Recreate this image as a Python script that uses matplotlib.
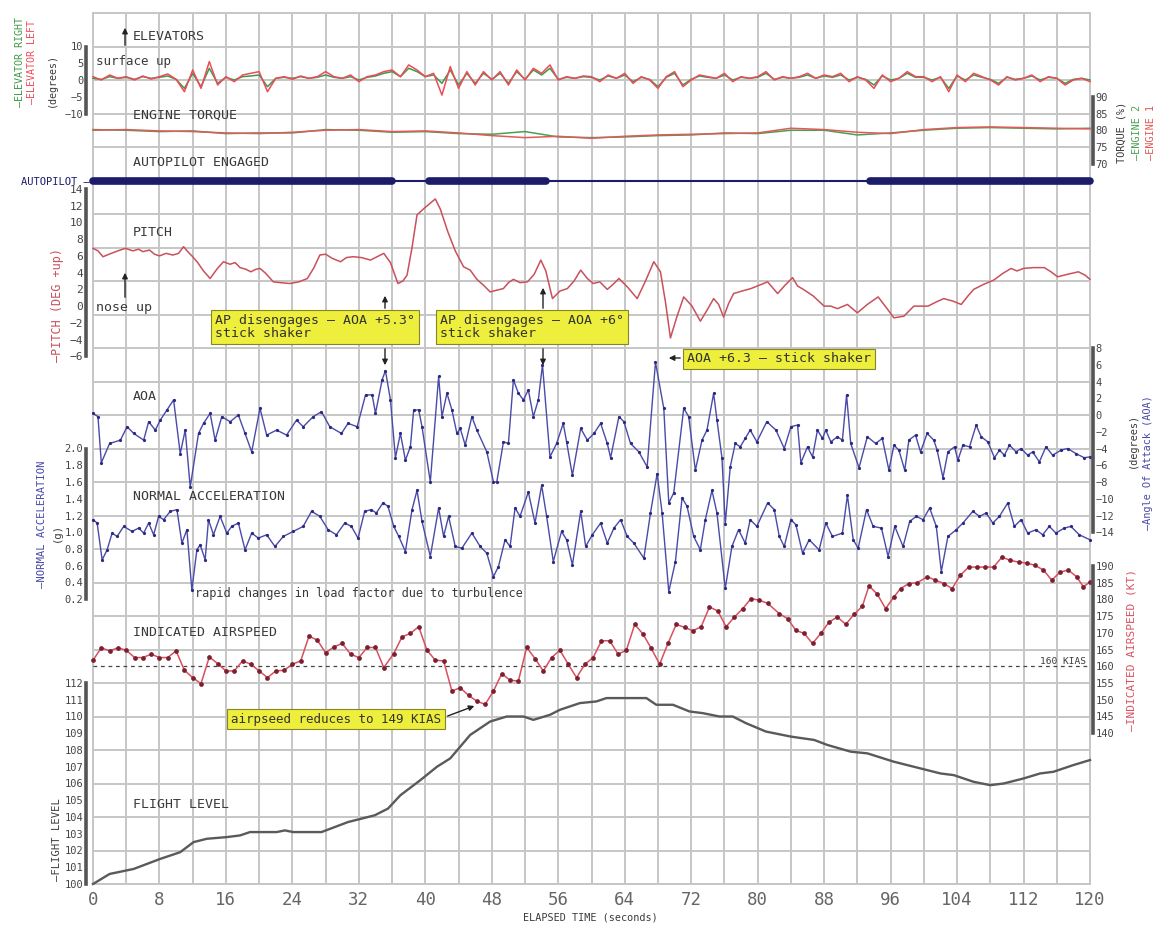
import numpy as np
import matplotlib.pyplot as plt

# ---------------- data ----------------
elev_time = list(range(0, 121))
elev_left = [1.0, 0.0, 1.5, 0.5, 1.0, 0.0, 1.2, 0.3, 1.0, 1.8,
             0.2, -3.5, 3.0, -2.5, 5.5, -1.5, 1.0, -0.5, 1.5, 2.0,
             2.5, -3.5, 0.5, 1.0, 0.2, 1.2, 0.5, 1.0, 2.5, 1.0,
             0.5, 1.5, -0.5, 1.0, 1.5, 2.5, 3.0, 1.0, 4.5, 3.0,
             1.0, 2.0, -4.5, 4.0, -2.5, 2.5, -1.5, 2.5, 0.0, 2.5,
             -1.5, 3.0, 0.0, 3.5, 2.0, 4.5, 0.0, 1.0, 0.5, 1.2,
             1.0, -0.5, 1.5, 0.5, 2.0, -1.0, 1.0, 0.0, -2.5, 1.0,
             2.5, -2.0, 0.0, 1.5, 1.0, 0.5, 2.0, -0.5, 1.0, 0.5,
             1.0, 2.5, 0.0, 1.0, 0.5, 1.0, 2.0, 0.5, 1.5, 1.0,
             2.0, -0.5, 1.0, 0.0, -2.5, 1.5, -0.5, 0.5, 2.5, 1.0,
             1.0, -0.5, 1.0, -3.5, 1.5, -0.5, 2.0, 1.0, 0.0, -1.5,
             1.0, 0.0, 0.5, 1.5, -0.5, 1.0, 0.5, -1.5, 0.0, 0.5,
             -0.5]
elev_right = [0.5, 0.2, 1.0, 0.5, 0.8, 0.2, 1.0, 0.5, 0.8, 1.2,
              0.2, -2.5, 2.0, -2.0, 3.5, -1.0, 0.8, 0.0, 1.0, 1.2,
              1.5, -2.0, 0.5, 0.8, 0.5, 1.0, 0.5, 0.8, 1.5, 0.8,
              0.5, 1.0, 0.0, 0.8, 1.2, 2.0, 2.5, 1.0, 3.5, 2.5,
              1.0, 1.5, -1.0, 3.0, -1.5, 2.0, -1.0, 2.0, 0.2, 2.0,
              -1.0, 2.5, 0.2, 3.0, 1.5, 3.5, 0.2, 0.8, 0.5, 1.0,
              0.8, 0.0, 1.2, 0.5, 1.5, -0.5, 0.8, 0.2, -2.0, 0.8,
              2.0, -1.5, 0.2, 1.2, 0.8, 0.5, 1.5, 0.0, 0.8, 0.5,
              0.8, 2.0, 0.2, 0.8, 0.5, 0.8, 1.5, 0.5, 1.2, 0.8,
              1.5, 0.0, 0.8, 0.2, -1.5, 1.2, 0.0, 0.5, 2.0, 0.8,
              0.8, 0.0, 0.8, -2.5, 1.2, 0.0, 1.5, 0.8, 0.2, -1.0,
              0.8, 0.2, 0.5, 1.2, 0.0, 0.8, 0.5, -1.0, 0.2, 0.5,
              0.0]

torque_time = [0, 4, 8, 12, 16, 20, 24, 28, 32, 36, 40, 44, 48, 52, 56, 60,
               64, 68, 72, 76, 80, 84, 88, 92, 96, 100, 104, 108, 112, 116, 120]
engine1 = [80.0, 80.2, 79.8, 79.6, 79.2, 79.0, 79.4, 80.0, 80.2, 79.6, 79.8,
           79.2, 78.4, 77.8, 78.2, 77.6, 78.2, 78.6, 78.8, 79.0, 79.2, 80.6,
           80.2, 79.4, 79.0, 80.2, 80.8, 81.0, 80.8, 80.6, 80.4]
engine2 = [80.2, 80.0, 79.6, 79.8, 79.0, 79.2, 79.2, 80.2, 80.0, 79.4, 79.6,
           79.0, 78.8, 79.6, 78.0, 77.8, 78.0, 78.4, 78.6, 79.2, 79.0, 80.0,
           80.0, 78.6, 79.2, 80.0, 80.6, 80.8, 80.6, 80.4, 80.6]

autopilot_on = [(0, 36), (40.5, 54.5), (93.5, 120)]

pitch_time = [0, 0.6, 1.2, 2.2, 3.0, 3.9, 4.8, 5.5, 6.0, 6.8, 7.4, 8.0, 8.8, 9.6,
              10.3, 10.9, 11.5, 12.0, 12.6, 13.3, 14.1, 14.9, 15.7, 16.5, 17.1,
              17.7, 18.4, 19.0, 19.6, 20.1, 20.8, 21.7, 22.6, 23.7, 24.8, 25.8,
              26.6, 27.3, 28.0, 28.8, 29.8, 30.5, 31.3, 32.3, 33.4, 34.2, 35.0,
              35.8, 36.7, 37.3, 37.8, 38.4, 39.0, 40.0, 41.2, 41.8, 42.7, 43.6,
              44.6, 45.4, 46.2, 47.0, 47.8, 48.6, 49.4, 50.0, 50.6, 51.4, 52.3,
              53.1, 53.9, 54.5, 55.3, 56.2, 57.1, 57.9, 58.7, 59.5, 60.2, 61.0,
              61.9, 62.6, 63.3, 64.4, 65.5, 66.5, 67.5, 68.3, 68.9, 69.5, 70.3,
              71.1, 72.1, 73.1, 73.9, 74.7, 75.3, 75.9, 76.5, 77.1, 78.1, 79.2,
              80.2, 81.2, 81.8, 82.4, 83.3, 84.2, 84.8, 85.5, 86.7, 88.0, 88.8,
              89.6, 90.8, 91.4, 92.0, 93.2, 94.5, 95.5, 96.4, 97.6, 98.8, 100.5,
              101.5, 102.4, 103.5, 104.5, 105.3, 106.0, 107.2, 108.4, 109.5,
              110.5, 111.2, 112.0, 113.2, 114.5, 115.3, 116.1, 117.3, 118.6,
              119.4, 120]
pitch = [6.9, 6.6, 5.9, 6.3, 6.6, 6.9, 6.6, 6.8, 6.5, 6.7, 6.2, 6.0, 6.3, 6.1,
         6.3, 7.1, 6.4, 5.9, 5.2, 4.2, 3.3, 4.4, 5.3, 5.0, 5.2,
         4.6, 4.4, 4.1, 4.4, 4.5, 3.9, 2.9, 2.8, 2.7, 2.9, 3.3,
         4.6, 6.1, 6.2, 5.7, 5.3, 5.8, 5.9, 5.8, 5.5, 5.9, 6.3,
         5.2, 2.7, 3.0, 3.7, 7.0, 10.9, 11.8, 12.8, 11.6, 8.9, 6.6,
         4.7, 4.3, 3.2, 2.5, 1.7, 1.9, 2.1, 2.8, 3.2, 2.8, 2.9,
         3.8, 5.5, 4.2, 0.9, 1.8, 2.1, 3.0, 4.3, 3.3, 2.7, 2.9,
         2.0, 2.6, 3.3, 2.2, 0.9, 3.0, 5.3, 4.1, 0.5, -3.8, -1.2,
         1.1, 0.0, -1.8, -0.5, 0.9, 0.2, -1.3, 0.3, 1.5, 1.8, 2.1,
         2.5, 2.9, 2.2, 1.5, 2.5, 3.4, 2.4, 2.0, 1.2, 0.0, 0.0,
         -0.3, 0.2, -0.3, -0.8, 0.2, 1.1, -0.2, -1.4, -1.2, 0.0, 0.0,
         0.5, 0.9, 0.6, 0.2, 1.2, 2.0, 2.6, 3.1, 3.9,
         4.5, 4.2, 4.5, 4.6, 4.6, 4.1, 3.5, 3.8, 4.1,
         3.7, 3.2]

aoa_time = [0, 0.6, 1, 2, 3.3, 4.1, 4.9, 6.1, 6.7, 7.5, 8.1, 8.9, 9.7, 10.5, 11.1,
            11.7, 12.7, 13.3, 14.1, 14.7, 15.5, 16.5, 17.5, 18.3, 19.1, 20.1, 20.9,
            22.1, 23.3, 24.5, 25.3, 26.5, 27.5, 28.5, 29.9, 30.7, 31.8, 32.8, 33.6,
            34, 34.8, 35.2, 35.8, 36.4, 37, 37.6, 38.2, 38.6, 39.2, 39.6, 40.6,
            41.6, 42, 42.6, 43.2, 43.8, 44.2, 44.8, 45.6, 46.2, 47.4, 48.2, 48.6,
            49.4, 50, 50.6, 51.2, 51.8, 52.4, 53, 53.6, 54.1, 55, 55.8, 56.6, 57,
            57.7, 58.7, 59.5, 60.3, 61.1, 61.9, 62.3, 63.3, 63.9, 64.7, 65.7, 66.7,
            67.7, 68.7, 69.3, 69.9, 71.1, 71.7, 72.5, 73.3, 73.9, 74.7, 75.1, 75.7,
            76.1, 76.7, 77.3, 77.9, 78.5, 79.1, 79.9, 81.1, 82.2, 83.2, 84, 84.8,
            85.2, 86, 86.6, 87.2, 87.8, 88.2, 88.8, 89.6, 90.2, 90.7, 91.2, 92.2,
            93.2, 94.2, 95, 95.8, 96.4, 97, 97.7, 98.2, 99, 99.6, 100.4, 101.2,
            101.6, 102.3, 102.9, 103.7, 104.1, 104.7, 105.5, 106.3, 106.9, 107.7,
            108.5, 109.1, 109.7, 110.3, 111.1, 111.7, 112.5, 113.1, 113.9, 114.7,
            115.5, 116.5, 117.3, 118.3, 119.3, 120]
aoa = [0.2, -0.2, -5.7, -3.4, -3.0, -1.4, -2.2, -3.0, -0.8, -1.8, -0.6, 0.6, 1.8,
       -4.6, -1.8, -8.6, -2.2, -1.0, 0.2, -3.0, -0.2, -0.8, 0.0, -2.2, -4.4, 0.8,
       -2.4, -1.8, -2.4, -0.6, -1.4, -0.2, 0.4, -1.4, -2.2, -1.0, -1.4, 2.4, 2.4,
       0.2, 4.2, 5.3, 1.8, -5.1, -2.2, -5.4, -3.8, 0.6, 0.6, -1.4, -8.0,
       4.6, -0.2, 2.6, 0.6, -2.2, -1.6, -3.6, -0.2, -1.8, -4.4, -8.0, -8.0,
       -3.2, -3.4, 4.2, 2.6, 1.8, 3.0, -0.2, 1.8, 6.0, -5.0, -3.4, -1.0, -3.2,
       -7.2, -1.6, -3.0, -2.2, -1.0, -3.4, -5.1, -0.2, -0.8, -3.4, -4.4, -6.2,
       6.3, 0.8, -10.5, -9.3, 0.8, -0.2, -6.6, -3.0, -1.8, 2.6, -0.6, -5.1,
       -13.0, -6.2, -3.4, -3.8, -2.8, -1.8, -3.2, -0.8, -1.8, -4.0, -1.4, -1.2,
       -5.7, -3.8, -5.0, -1.8, -2.8, -1.8, -3.2, -2.6, -3.0, 2.4, -3.4, -6.3,
       -2.6, -3.4, -2.8, -6.6, -3.6, -4.2, -6.6, -3.0, -2.4, -4.4, -2.2, -3.0,
       -4.2, -7.5, -4.4, -3.8, -5.4, -3.6, -3.8, -1.2, -2.6, -3.2,
       -5.1, -4.2, -4.8, -3.6, -4.4, -4.0, -4.8, -4.4, -5.6, -3.8,
       -4.8, -4.2, -4.0, -4.6, -5.1, -5.0]

nacc_time = [0, 0.5, 1.1, 1.7, 2.3, 2.9, 3.7, 4.7, 5.5, 6.1, 6.7, 7.3, 7.9, 8.5,
             9.3, 10.1, 10.7, 11.3, 11.9, 12.5, 12.9, 13.5, 13.9, 14.5, 15.3, 16.1,
             16.7, 17.5, 18.3, 19.1, 19.9, 20.9, 21.9, 22.9, 24.1, 25.3, 26.3, 27.3,
             28.3, 29.3, 30.3, 31.1, 31.9, 32.7, 33.5, 34.1, 34.9, 35.5, 36.2, 36.8,
             37.6, 38.4, 39, 39.6, 40.6, 41.6, 42.2, 42.8, 43.6, 44.4, 45.6, 46.6,
             47.4, 48.2, 48.8, 49.6, 50.2, 50.8, 51.4, 52.4, 53.2, 54, 54.6, 55.4,
             56.4, 57, 57.7, 58.7, 59.3, 60.1, 61.1, 61.9, 62.7, 63.5, 64.3, 65.1,
             66.3, 67.1, 67.9, 68.5, 69.3, 70.1, 70.9, 71.5, 72.3, 73.1, 73.7, 74.5,
             75.1, 76.1, 76.9, 77.7, 78.5, 79.1, 79.9, 81.2, 82, 82.6, 83.2, 84,
             84.6, 85.4, 86.2, 87.4, 88.2, 89, 90.2, 90.8, 91.5, 92.1, 93.1, 93.9,
             94.9, 95.7, 96.5, 97.5, 98.3, 99.1, 99.9, 100.7, 101.5, 102.1, 102.9,
             103.9, 104.7, 105.9, 106.7, 107.5, 108.3, 109.1, 110.1, 110.9, 111.7,
             112.5, 113.5, 114.3, 115.1, 115.9, 116.9, 117.7, 118.7, 120]
nacc = [1.15, 1.11, 0.67, 0.79, 0.99, 0.95, 1.07, 1.01, 1.05, 0.99, 1.11, 0.97, 1.19,
        1.15, 1.25, 1.27, 0.87, 1.03, 0.31, 0.79, 0.85, 0.67, 1.15, 0.97, 1.19, 0.99,
        1.07, 1.11, 0.79, 0.99, 0.93, 0.97, 0.83, 0.95, 1.01, 1.07, 1.25, 1.19,
        1.03, 0.97, 1.11, 1.07, 0.93, 1.25, 1.27, 1.23, 1.35, 1.31, 1.07, 0.95,
        0.77, 1.27, 1.50, 1.13, 0.71, 1.29, 0.95, 1.19, 0.83, 0.81, 0.99, 0.83,
        0.75, 0.47, 0.59, 0.91, 0.83, 1.29, 1.19, 1.48, 1.11, 1.56, 1.19, 0.65,
        1.01, 0.91, 0.61, 1.25, 0.83, 0.97, 1.11, 0.87, 1.05, 1.15, 0.95, 0.87,
        0.69, 1.23, 1.70, 1.23, 0.29, 0.65, 1.41, 1.31, 0.95, 0.79, 1.15, 1.50,
        1.23, 0.33, 0.83, 1.03, 0.87, 1.15, 1.07, 1.35, 1.27, 0.95, 0.83, 1.15,
        1.09, 0.75, 0.91, 0.79, 1.11, 0.95, 0.99, 1.44, 0.91, 0.81, 1.27, 1.07,
        1.05, 0.71, 1.07, 0.83, 1.13, 1.19, 1.15, 1.29, 1.07, 0.53, 0.95,
        1.03, 1.11, 1.25, 1.19, 1.23, 1.11, 1.19, 1.35, 1.07, 1.15,
        0.99, 1.03, 0.97, 1.07, 0.99, 1.05, 1.07, 0.97, 0.91]

ias_time = [0, 1, 2, 3, 4, 5, 6, 7, 8, 9, 10, 11, 12, 13, 14, 15, 16, 17, 18, 19,
            20, 21, 22, 23, 24, 25, 26, 27, 28, 29, 30, 31, 32, 33, 34, 35, 36.2,
            37.2, 38.2, 39.2, 40.2, 41.2, 42.2, 43.2, 44.2, 45.2, 46.2, 47.2, 48.2,
            49.2, 50.2, 51.2, 52.2, 53.2, 54.2, 55.2, 56.2, 57.2, 58.2, 59.2, 60.2,
            61.2, 62.2, 63.2, 64.2, 65.2, 66.2, 67.2, 68.2, 69.2, 70.2, 71.2, 72.2,
            73.2, 74.2, 75.2, 76.2, 77.2, 78.2, 79.2, 80.2, 81.2, 82.6, 83.6, 84.6,
            85.6, 86.6, 87.6, 88.6, 89.6, 90.6, 91.6, 92.6, 93.4, 94.4, 95.4, 96.4,
            97.2, 98.2, 99.2, 100.4, 101.4, 102.4, 103.4, 104.4, 105.4, 106.4,
            107.4, 108.4, 109.4, 110.4, 111.4, 112.4, 113.4, 114.4, 115.4, 116.4,
            117.4, 118.4, 119.2, 120]
ias = [161.8, 165.5, 164.6, 165.5, 164.8, 162.6, 162.6, 163.6, 162.6, 162.6,
       164.6, 158.8, 156.6, 154.8, 162.8, 160.8, 158.6, 158.6, 161.6, 160.6,
       158.6, 156.6, 158.6, 158.8, 160.6, 161.6, 169.0, 167.8, 164.0, 165.8,
       166.8, 163.6, 162.6, 165.6, 165.6, 159.6, 163.8,
       168.8, 169.8, 171.8, 164.8, 161.8, 161.6, 152.6, 153.6, 151.3, 149.6,
       148.6, 152.6, 157.8, 155.8, 155.6, 165.6, 162.3, 158.6, 162.6, 164.8,
       160.6, 156.6, 160.6, 162.6, 167.6, 167.6, 163.6, 164.8, 172.5, 169.6,
       165.3, 160.6, 166.8, 172.5, 171.6, 170.6, 171.8, 177.7, 176.5, 171.8,
       174.7, 177.2, 180.2, 179.7, 178.8, 175.7, 174.2, 170.7, 169.8, 166.8,
       169.8, 173.2, 174.7, 172.5, 175.5, 177.9, 184.0, 181.5, 177.2, 180.7,
       183.2, 184.7, 184.9, 186.7, 185.7, 184.7, 183.2, 187.2, 189.6, 189.6,
       189.6, 189.6, 192.6, 191.6, 191.1, 190.8, 190.1, 188.7, 185.7, 188.1,
       188.7, 186.7, 183.7, 185.2]

fl_time = [0, 2, 4.9, 8.1, 10.5, 12.1, 13.7, 16.1, 17.7, 18.9, 22.1, 23.1, 24.1,
           27.5, 30.7, 33.9, 35.5, 37, 39.4, 41.4, 43, 45.4, 47.8, 49.8, 51.8, 53,
           55, 56.2, 58.6, 60.6, 61.8, 66.6, 67.8, 69.8, 71.8, 73.4, 75.4, 77,
           78.6, 81, 84, 86.8, 88.4, 91.2, 93.2, 96.4, 98.8, 102, 103.6, 106, 108,
           109.6, 112, 114, 115.6, 118, 120]
flight_level = [100.0, 100.6, 100.9, 101.5, 101.9, 102.5, 102.7, 102.8, 102.9,
                103.1, 103.1, 103.2, 103.1, 103.1, 103.7, 104.1, 104.5, 105.3,
                106.2, 107.0, 107.5, 108.9, 109.7, 110.0, 110.0, 109.8, 110.1,
                110.4, 110.8, 110.9, 111.1, 111.1, 110.7, 110.7, 110.3, 110.2,
                110.0, 110.0, 109.6, 109.1, 108.8, 108.6, 108.3, 107.9, 107.8,
                107.3, 107.0, 106.6, 106.5, 106.1, 105.9, 106.0, 106.3, 106.6,
                106.7, 107.1, 107.4]

x_ticks = list(range(0, 121, 8))

# ---------------- layout helpers (pixel geometry) ----------------
W, H = 1156, 927
X0, X1 = 93, 1090
ROW0, ROWH = 13, 33.5
NROWS = 26
FONT = 'DejaVu Sans Mono'
TXT = '#3a3a3a'
plt.rcParams['font.family'] = FONT


def ypx(row):
    return ROW0 + ROWH * row


def fx(px):
    return px / W


def fy(py):
    return 1 - py / H


fig = plt.figure(figsize=(W / 100, H / 100), dpi=100)

# background grid
bg = fig.add_axes([fx(X0), fy(ypx(NROWS)), (X1 - X0) / W, (ypx(NROWS) - ROW0) / H])
bg.set_xlim(0, 120)
bg.set_ylim(NROWS, 0)
bg.set_xticks(range(0, 121, 4))
bg.set_xticklabels([str(v) if v in x_ticks else '' for v in range(0, 121, 4)])
bg.set_yticks(range(0, NROWS + 1))
bg.set_yticklabels([])
bg.grid(color='#c6c6c6', lw=1.4)
bg.tick_params(length=0, labelsize=12.5, labelcolor='#666666', pad=5)
for s in bg.spines.values():
    s.set_color('#c6c6c6')
    s.set_linewidth(1.4)
fig.text(fx(590), fy(918), 'ELAPSED TIME (seconds)', fontsize=7.3, color=TXT,
         ha='center', va='center')


def add_band(row_top, row_bot, ylim, ticks, side='left', fmt=None, size=7.5):
    top, bot = ypx(row_top), ypx(row_bot)
    ax = fig.add_axes([fx(X0), fy(bot), (X1 - X0) / W, (bot - top) / H])
    ax.set_xlim(0, 120)
    ax.set_ylim(*ylim)
    ax.patch.set_visible(False)
    for s in ax.spines.values():
        s.set_visible(False)
    sp = ax.spines[side]
    sp.set_visible(True)
    sp.set_position(('outward', 5 if side == 'left' else 2))
    sp.set_linewidth(2.6)
    sp.set_color('#555555')
    ax.set_xticks([])
    ax.yaxis.set_ticks_position(side)
    ax.set_yticks(ticks)
    if fmt:
        ax.set_yticklabels([fmt % v for v in ticks])
    ax.tick_params(axis='y', length=0, pad=2, labelsize=size, labelcolor='#444444')
    return ax


# elevators
ax_el = add_band(1, 3, (-10, 10), [-10, -5, 0, 5, 10])
ax_el.plot(elev_time, elev_right, color='#3d9a44', lw=1.1, clip_on=False)
ax_el.plot(elev_time, elev_left, color='#ee4b5a', lw=1.1, clip_on=False)

# engine torque
ax_tq = add_band(2.5, 4.5, (70, 90), [70, 75, 80, 85, 90], side='right')
ax_tq.plot(torque_time, engine2, color='#4aa050', lw=1.1, clip_on=False)
ax_tq.plot(torque_time, engine1, color='#e05a5a', lw=1.1, clip_on=False)

# pitch
ax_p = add_band(5.25, 10.25, (-6, 14), list(range(-6, 15, 2)), size=8)
ax_p.plot(pitch_time, pitch, color='#c9505c', lw=1.1, clip_on=False)

# angle of attack
ax_a = add_band(10, 15.5, (-14, 8), list(range(-14, 9, 2)), side='right')
ax_a.plot(aoa_time, aoa, color='#4a4aa8', lw=1.0, marker='o', ms=1.3,
          mfc='#2a2a80', mec='#2a2a80', clip_on=False)

# normal acceleration
na_ticks = [0.2, 0.4, 0.6, 0.8, 1.0, 1.2, 1.4, 1.6, 1.8, 2.0]
ax_n = add_band(13, 17.5, (0.2, 2.0), na_ticks, fmt='%.1f')
ax_n.plot(nacc_time, nacc, color='#4a4aa8', lw=1.0, marker='o', ms=1.3,
          mfc='#2a2a80', mec='#2a2a80', clip_on=False)

# indicated airspeed
ax_i = add_band(16.5, 21.5, (140, 190), list(range(140, 191, 5)), side='right')
ax_i.axhline(160, color='#444444', lw=0.9, ls=(0, (3, 3)))
ax_i.plot(ias_time, ias, color='#d8505e', lw=1.1, marker='o', ms=2.4,
          mfc='#7a2030', mec='#7a2030', clip_on=False)

# flight level
ax_f = add_band(20, 26, (100, 112), list(range(100, 113)))
ax_f.plot(fl_time, flight_level, color='#5a5a5a', lw=1.7, clip_on=False)

# overlay for labels and annotations
ov = fig.add_axes(bg.get_position())
ov.set_xlim(0, 120)
ov.set_ylim(NROWS, 0)
ov.axis('off')
ov.patch.set_visible(False)

# autopilot state
ov.plot([0, 120], [5, 5], color='#1c1c6a', lw=1.5, clip_on=False)
for a, b in autopilot_on:
    ov.plot([a, b], [5, 5], color='#1c1c6a', lw=5.5, solid_capstyle='round',
            clip_on=False)


def tx(t_px, y_px):
    return (t_px - X0) / (X1 - X0) * 120, (y_px - ROW0) / ROWH


labels = [('ELEVATORS', 133, 37), ('ENGINE TORQUE', 133, 115),
          ('AUTOPILOT ENGAGED', 133, 163), ('PITCH', 133, 232), ('AOA', 133, 397),
          ('NORMAL ACCELERATION', 133, 497), ('INDICATED AIRSPEED', 133, 632),
          ('FLIGHT LEVEL', 133, 805)]
for s, px, py in labels:
    ov.text(*tx(px, py), s, fontsize=9.5, color=TXT, ha='left', va='center')

ov.text(*tx(96, 62), 'surface up', fontsize=9, color=TXT, ha='left', va='center')
ov.text(*tx(96, 308), 'nose up', fontsize=9.5, color=TXT, ha='left', va='center')
ov.text(*tx(195, 594), 'rapid changes in load factor due to turbulence',
        fontsize=8.6, color=TXT, ha='left', va='center')
ov.text(*tx(1086, 661), '160 KIAS', fontsize=6.8, color=TXT, ha='right', va='center')

arrow = dict(arrowstyle='-|>', color='#222222', lw=1.0, mutation_scale=8)
ov.annotate('', xy=tx(125, 25), xytext=tx(125, 48), arrowprops=arrow)
ov.annotate('', xy=tx(125, 270), xytext=tx(125, 300), arrowprops=arrow)

box = dict(boxstyle='square,pad=0.3', fc='#eeee3c', ec='#85852a', lw=0.8)
ov.text(*tx(215, 314), 'AP disengages \u2013 AOA +5.3\u00b0\nstick shaker',
        fontsize=9.5, color='#333', ha='left', va='top', bbox=box, linespacing=1.0)
ov.text(*tx(440, 314), 'AP disengages \u2013 AOA +6\u00b0\nstick shaker',
        fontsize=9.5, color='#333', ha='left', va='top', bbox=box, linespacing=1.0)
ov.text(*tx(687, 359), 'AOA +6.3 \u2013 stick shaker', fontsize=9.5, color='#333',
        ha='left', va='center', bbox=box)
ov.text(*tx(231, 719), 'airpseed reduces to 149 KIAS', fontsize=9, color='#333',
        ha='left', va='center', bbox=box)

for xp, up in [(385, 293), (543, 285)]:
    ov.annotate('', xy=tx(xp, up), xytext=tx(xp, 311), arrowprops=arrow)
    ov.annotate('', xy=tx(xp, 368), xytext=tx(xp, 346), arrowprops=arrow)
ov.annotate('', xy=tx(666, 358), xytext=tx(683, 358), arrowprops=arrow)
ov.annotate('', xy=tx(477, 705), xytext=tx(445, 717), arrowprops=arrow)

# left-side axis captions
fig.text(fx(90), fy(182), 'AUTOPILOT \u2014', fontsize=7.5, color='#1c1c6a',
         ha='right', va='center')
fig.text(fx(20), fy(62), '\u2014ELEVATOR RIGHT', fontsize=7.2, color='#3d9a44',
         rotation=90, ha='center', va='center')
fig.text(fx(32), fy(62), '\u2014ELEVATOR LEFT', fontsize=7.2, color='#ee4b5a',
         rotation=90, ha='center', va='center')
fig.text(fx(52), fy(80), '(degrees)', fontsize=7.2, color=TXT,
         rotation=90, ha='center', va='center')
fig.text(fx(57), fy(305), '\u2014PITCH (DEG +up)', fontsize=8.5, color='#c9505c',
         rotation=90, ha='center', va='center')
fig.text(fx(42), fy(524), '\u2014NORMAL ACCELERATION', fontsize=7.6, color='#4a4aa8',
         rotation=90, ha='center', va='center')
fig.text(fx(57), fy(532), '(g)', fontsize=7.6, color=TXT,
         rotation=90, ha='center', va='center')
fig.text(fx(57), fy(840), '\u2014FLIGHT LEVEL', fontsize=7.6, color=TXT,
         rotation=90, ha='center', va='center')

# right-side axis captions
fig.text(fx(1122), fy(132), 'TORQUE (%)', fontsize=7.4, color=TXT,
         rotation=90, ha='center', va='center')
fig.text(fx(1137), fy(132), '\u2014ENGINE 2', fontsize=7.4, color='#4aa050',
         rotation=90, ha='center', va='center')
fig.text(fx(1151), fy(132), '\u2014ENGINE 1', fontsize=7.4, color='#e05a5a',
         rotation=90, ha='center', va='center')
fig.text(fx(1133), fy(440), '(degrees)', fontsize=7.4, color=TXT,
         rotation=90, ha='center', va='center')
fig.text(fx(1148), fy(463), '\u2014Angle Of Attack (AOA)', fontsize=7.4,
         color='#4a4aa8', rotation=90, ha='center', va='center')
fig.text(fx(1131), fy(650), '\u2014INDICATED AIRSPEED (KT)', fontsize=8.0,
         color='#d8505e', rotation=90, ha='center', va='center')

fig.savefig('out.png', dpi=100)
